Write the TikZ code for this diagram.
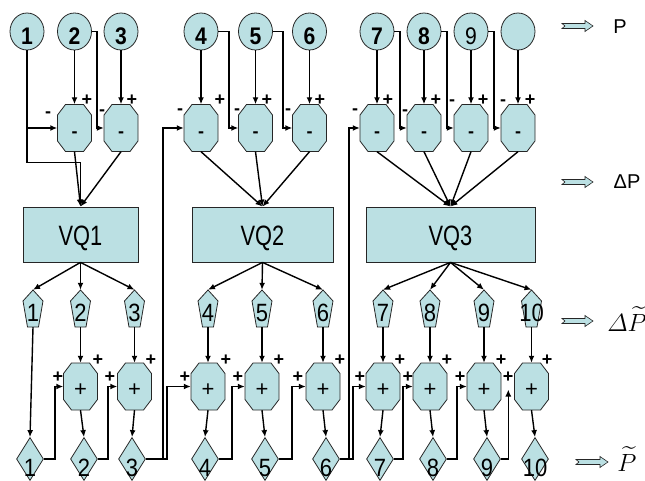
\documentclass[tikz,border=0pt]{standalone}
\usepackage{amsmath}
\usepackage{fontspec}
\setmainfont{Liberation Sans}
\newfontfamily\digitfont{Liberation Sans}[FakeStretch=0.88]
\newfontfamily\boxfont{Liberation Sans}[FakeStretch=0.78]
\usetikzlibrary{arrows.meta,shapes.geometric}
\definecolor{tone}{RGB}{187,224,227}

\tikzset{
  shapeline/.style={draw=black!85, line width=0.8pt, fill=tone},
  anchorbox/.style={rectangle, inner sep=0pt, draw=none, fill=none},
  disc/.style={ellipse, shapeline, minimum width=34pt, minimum height=37pt, inner sep=0pt},
  rhomb/.style={diamond, shapeline, minimum width=27pt, minimum height=43pt, inner sep=0pt},
  vqbox/.style={rectangle, shapeline, minimum height=55pt, inner sep=0pt},
  vqtext/.style={anchor=base, inner sep=0pt, font=\boxfont\fontsize{28}{28}\selectfont},
  boldnum/.style={anchor=base, inner sep=0pt, font=\digitfont\bfseries\fontsize{24}{24}\selectfont},
  thinnum/.style={anchor=base, inner sep=0pt, font=\digitfont\fontsize{25}{25}\selectfont},
  sign/.style={inner sep=0pt, font=\bfseries\fontsize{18}{18}\selectfont},
  wire/.style={line width=1.4pt, -{Latex[length=7pt,width=6pt]}},
  legend/.style={inner sep=0pt, font=\fontsize{20}{20}\selectfont},
}

% subtractor / adder: octagon drawn around a rectangular anchor node
\newcommand\octa[5]{% name, x, y, text, text style
  \path[shapeline] (#2-9,#3-23.5) -- (#2+9,#3-23.5) -- (#2+17,#3-13) -- (#2+17,#3+13)
    -- (#2+9,#3+23.5) -- (#2-9,#3+23.5) -- (#2-17,#3+13) -- (#2-17,#3-13) -- cycle;
  \node[anchorbox, minimum width=34pt, minimum height=47pt] (#1) at (#2,#3) {};
  \node[anchor=base, inner sep=0pt, #5] (#1t) at (#2,#3+9.5) {#4};
}
% quantised output: tall pentagon
\newcommand\penta[3]{% name, x, digit
  \path[shapeline] (#2,290) -- (#2+10,301) -- (#2+5.5,327) -- (#2-5.5,327) -- (#2-10,301) -- cycle;
  \node[anchorbox, minimum width=20pt, minimum height=37pt] (#1) at (#2,308.5) {};
  \node[thinnum] (#1t) at (#2,321.5) {#3};
}
% input value: ellipse with bold digit
\newcommand\disc[3]{% name, x, digit
  \node[disc] (#1) at (#2,31.5) {};
  \node[boldnum] (#1t) at (#2,45) {#3};
}
% reconstructed value: diamond
\newcommand\rhomb[3]{% name, x, digit
  \node[rhomb] (#1) at (#2,459) {};
  \node[thinnum] (#1t) at (#2,476.5) {#3};
}
% legend arrow with notched tail
\newcommand\fatarrow[3]{% x, y, length
  \path[shapeline, line width=0.6pt] (#1,#2-2.5) -- (#1+#3-8,#2-2.5) -- (#1+#3-8,#2-5.5)
    -- (#1+#3,#2) -- (#1+#3-8,#2+5.5) -- (#1+#3-8,#2+2.5) -- (#1,#2+2.5) -- (#1+3,#2) -- cycle;
}

\begin{document}
\begin{tikzpicture}[x=1pt,y=-1pt]
\useasboundingbox (0,0) rectangle (645,481);

% ---- inputs
\disc{c1}{27}{1}
\disc{c2}{74.5}{2}
\disc{c3}{121}{3}
\disc{c4}{201}{4}
\disc{c5}{255.5}{5}
\disc{c6}{309.5}{6}
\disc{c7}{377}{7}
\disc{c8}{424}{8}
\disc{c9}{471}{\mdseries 9}
\disc{c10}{518}{}

% ---- subtractors
\octa{m2}{74.5}{128}{-}{font=\bfseries\fontsize{18}{18}\selectfont}
\octa{m3}{121}{128}{-}{font=\bfseries\fontsize{18}{18}\selectfont}
\octa{m4}{201}{128}{-}{font=\bfseries\fontsize{18}{18}\selectfont}
\octa{m5}{255.5}{128}{-}{font=\bfseries\fontsize{18}{18}\selectfont}
\octa{m6}{309.5}{128}{-}{font=\bfseries\fontsize{18}{18}\selectfont}
\octa{m7}{377}{128}{-}{font=\bfseries\fontsize{18}{18}\selectfont}
\octa{m8}{424}{128}{-}{font=\bfseries\fontsize{18}{18}\selectfont}
\octa{m9}{471}{128}{-}{font=\bfseries\fontsize{18}{18}\selectfont}
\octa{m10}{518}{128}{-}{font=\bfseries\fontsize{18}{18}\selectfont}

% ---- quantisers
\node[vqbox, minimum width=115pt] (vq1) at (80.5,234.5) {};
\node[vqtext] (vq1t) at (80.5,245) {VQ1};
\node[vqbox, minimum width=141pt] (vq2) at (262.5,234.5) {};
\node[vqtext] (vq2t) at (262.5,245) {VQ2};
\node[vqbox, minimum width=169pt] (vq3) at (450.5,234.5) {};
\node[vqtext] (vq3t) at (450.5,245) {VQ3};

% ---- quantised differences
\penta{q1}{33}{1}
\penta{q2}{80.5}{2}
\penta{q3}{134.5}{3}
\penta{q4}{208}{4}
\penta{q5}{262}{5}
\penta{q6}{323}{6}
\penta{q7}{383}{7}
\penta{q8}{430}{8}
\penta{q9}{484}{9}
\penta{q10}{531.5}{10}

% ---- adders
\octa{p2}{80.5}{386.5}{+}{font=\fontsize{22}{22}\selectfont}
\octa{p3}{134.5}{386.5}{+}{font=\fontsize{22}{22}\selectfont}
\octa{p4}{208}{386.5}{+}{font=\fontsize{22}{22}\selectfont}
\octa{p5}{262}{386.5}{+}{font=\fontsize{22}{22}\selectfont}
\octa{p6}{323}{386.5}{+}{font=\fontsize{22}{22}\selectfont}
\octa{p7}{383}{386.5}{+}{font=\fontsize{22}{22}\selectfont}
\octa{p8}{430}{386.5}{+}{font=\fontsize{22}{22}\selectfont}
\octa{p9}{484}{386.5}{+}{font=\fontsize{22}{22}\selectfont}
\octa{p10}{531.5}{386.5}{+}{font=\fontsize{22}{22}\selectfont}

% ---- reconstructed values
\rhomb{d1}{30}{1}
\rhomb{d2}{84}{2}
\rhomb{d3}{132}{3}
\rhomb{d4}{205}{4}
\rhomb{d5}{265}{5}
\rhomb{d6}{326}{6}
\rhomb{d7}{380}{7}
\rhomb{d8}{433}{8}
\rhomb{d9}{487}{9}
\rhomb{d10}{535}{10}

% ---- sign marks at the subtractor inputs
\node[sign] (s2p) at (87,100) {+};   \node[sign] (s2m) at (48,115) {-};
\node[sign] (s3p) at (132,100) {+};  \node[sign] (s3m) at (102,113) {-};
\node[sign] (s4p) at (220,100) {+};  \node[sign] (s4m) at (180,112) {-};
\node[sign] (s5p) at (267,100) {+};  \node[sign] (s5m) at (237,112) {-};
\node[sign] (s6p) at (320,100) {+};  \node[sign] (s6m) at (288,112) {-};
\node[sign] (s7p) at (388,100) {+};  \node[sign] (s7m) at (355,112) {-};
\node[sign] (s8p) at (436,100) {+};  \node[sign] (s8m) at (405,113) {-};
\node[sign] (s9p) at (483,100) {+};  \node[sign] (s9m) at (452,103) {-};
\node[sign] (s10p) at (530,100) {+}; \node[sign] (s10m) at (503,103) {-};

% ---- sign marks at the adder inputs
\node[sign] (a2p) at (98,360) {+};   \node[sign] (a2l) at (58,377) {+};
\node[sign] (a3p) at (151,360) {+};  \node[sign] (a3l) at (110,377) {+};
\node[sign] (a4p) at (226,360) {+};  \node[sign] (a4l) at (185,377) {+};
\node[sign] (a5p) at (279,360) {+};  \node[sign] (a5l) at (238,377) {+};
\node[sign] (a6p) at (340,360) {+};  \node[sign] (a6l) at (298,377) {+};
\node[sign] (a7p) at (400,360) {+};  \node[sign] (a7l) at (360,377) {+};
\node[sign] (a8p) at (447,360) {+};  \node[sign] (a8l) at (408,377) {+};
\node[sign] (a9p) at (501,360) {+};  \node[sign] (a9l) at (460,377) {+};
\node[sign] (a10p) at (547,360) {+}; \node[sign] (a10l) at (508,377) {+};

% ---- connectors: inputs to subtractors
\foreach \k in {2,...,10} \draw[wire] (c\k.south) -- (m\k.north);
\draw[wire] (c1.south |- m2.west) -- (m2.west);
\draw[wire] (c1.south) |- ([yshift=44pt]vq1.north) -- (vq1.north);
\draw[wire] (c2.east) -| ([xshift=-7pt]m3.west) -- (m3.west);
\draw[wire] (c4.east) -| ([xshift=-9.5pt]m5.west) -- (m5.west);
\draw[wire] (c5.east) -| ([xshift=-9.5pt]m6.west) -- (m6.west);
\draw[wire] (c7.east) -| ([xshift=-7pt]m8.west) -- (m8.west);
\draw[wire] (c8.east) -| ([xshift=-7pt]m9.west) -- (m9.west);
\draw[wire] (c9.east) -| ([xshift=-7pt]m10.west) -- (m10.west);

% ---- subtractors to quantisers
\foreach \k in {2,3} \draw[wire] (m\k.south) -- (vq1.north);
\foreach \k in {4,5,6} \draw[wire] (m\k.south) -- (vq2.north);
\foreach \k in {7,...,10} \draw[wire] (m\k.south) -- (vq3.north);

% ---- quantisers to outputs
\foreach \k in {1,2,3} \draw[wire] (vq1.south) -- (q\k.north);
\foreach \k in {4,5,6} \draw[wire] (vq2.south) -- (q\k.north);
\foreach \k in {7,...,10} \draw[wire] (vq3.south) -- (q\k.north);

% ---- reconstruction chain
\draw[wire] (q1.south) -- (d1.north);
\foreach \k in {2,...,10} {
  \draw[wire] (q\k.south) -- (p\k.north);
  \draw[wire] (p\k.south) -- (d\k.north);
}
\draw[wire] (d1.east) -| ([xshift=-8.5pt]p2.west) -- (p2.west);
\draw[wire] (d2.east) -| ([xshift=-9.5pt]p3.west) -- (p3.west);
\draw[wire] (d3.east) -| ([xshift=-21pt]m4.west) -- (m4.west);
\draw[wire] (d3.east) -| ([xshift=-24pt]p4.west) -- (p4.west);
\draw[wire] (d4.east) -| ([xshift=-13pt]p5.west) -- (p5.west);
\draw[wire] (d5.east) -| ([xshift=-14pt]p6.west) -- (p6.west);
\draw[wire] (d6.east) -| ([xshift=-11pt]m7.west) -- (m7.west);
\draw[wire] (d6.east) -| ([xshift=-13pt]p7.west) -- (p7.west);
\draw[wire] (d7.east) -| ([xshift=-10pt]p8.west) -- (p8.west);
\draw[wire] (d8.east) -| ([xshift=-10pt]p9.west) -- (p9.west);
\draw[wire] (d9.east) -| ([xshift=-6pt,yshift=-3pt]p10.west);

% ---- legend
\fatarrow{562}{26}{31}
\node[legend] (lp) at (620,27) {P};
\fatarrow{562}{182}{31}
\node[legend] (ldp) at (627,182) {ΔP};
\fatarrow{562}{321}{31}
\node[legend, font=\fontsize{25}{25}\selectfont] (ldpt) at (627,319) {$\varDelta\widetilde{P}$};
\fatarrow{576}{462}{32}
\node[legend, font=\fontsize{24}{24}\selectfont] (lpt) at (627,459) {$\widetilde{P}$};
\end{tikzpicture}
\end{document}
